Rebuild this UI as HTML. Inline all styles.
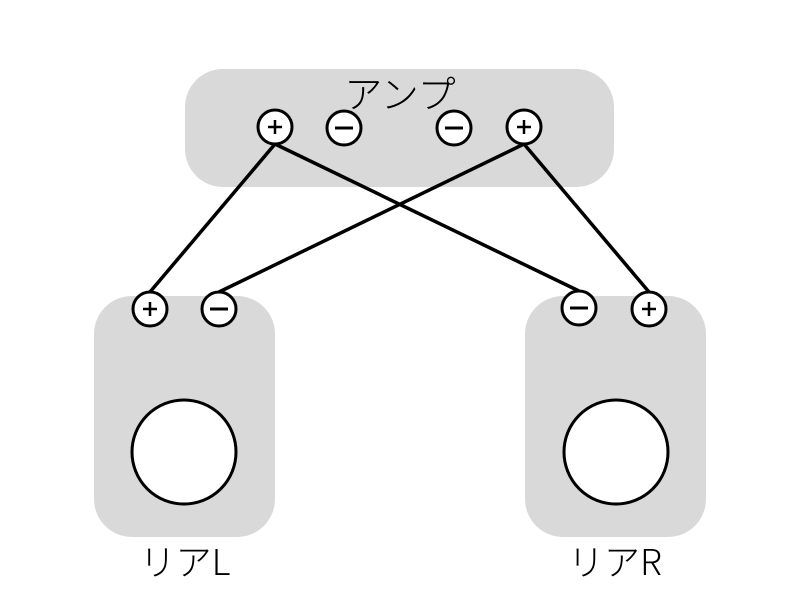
<!DOCTYPE html>
<html><head><meta charset="utf-8"><style>body{margin:0;background:#fff}svg{display:block}</style></head><body>
<svg width="800" height="600" viewBox="0 0 800 600" xmlns="http://www.w3.org/2000/svg">
<rect x="185" y="69" width="429" height="118" rx="38" fill="#d9d9d9"/>
<rect x="94" y="296" width="181" height="241" rx="38" fill="#d9d9d9"/>
<rect x="525" y="296" width="181" height="241" rx="38" fill="#d9d9d9"/>
<text x="400" y="108" font-size="38" font-weight="300" text-anchor="middle" font-family="Noto Sans CJK JP, sans-serif">アンプ</text>
<g stroke="#000" stroke-width="3.5" fill="none">
<line x1="275" y1="144" x2="150" y2="292"/>
<line x1="275" y1="144" x2="579" y2="291"/>
<line x1="524" y1="144" x2="219" y2="292"/>
<line x1="524" y1="144" x2="649" y2="292"/>
</g>
<g stroke="#000" stroke-width="3" fill="#fff">
<circle cx="275" cy="127" r="17"/><circle cx="344" cy="128" r="17"/>
<circle cx="454" cy="128" r="17"/><circle cx="524" cy="127" r="17"/>
<circle cx="150" cy="309" r="17"/><circle cx="219" cy="309" r="17"/>
<circle cx="579" cy="308" r="17"/><circle cx="649" cy="309" r="17"/>
<circle cx="184" cy="452" r="52"/><circle cx="616" cy="452" r="52"/>
</g>
<g stroke="#000" stroke-width="2.5">
<line x1="268" y1="127" x2="282" y2="127"/><line x1="275" y1="120" x2="275" y2="134"/>
<line x1="517" y1="127" x2="531" y2="127"/><line x1="524" y1="120" x2="524" y2="134"/>
<line x1="143" y1="309" x2="157" y2="309"/><line x1="150" y1="302" x2="150" y2="316"/>
<line x1="642" y1="309" x2="656" y2="309"/><line x1="649" y1="302" x2="649" y2="316"/>
<line x1="335" y1="128" x2="353" y2="128" stroke-width="3"/>
<line x1="445" y1="128" x2="463" y2="128" stroke-width="3"/>
<line x1="210" y1="309" x2="228" y2="309" stroke-width="3"/>
<line x1="570" y1="308" x2="588" y2="308" stroke-width="3"/>
</g>
<text x="185" y="575" font-size="36" font-weight="300" text-anchor="middle" font-family="Noto Sans CJK JP, sans-serif">リアL</text>
<text x="615" y="575" font-size="36" font-weight="300" text-anchor="middle" font-family="Noto Sans CJK JP, sans-serif">リアR</text>
</svg>
</body></html>
